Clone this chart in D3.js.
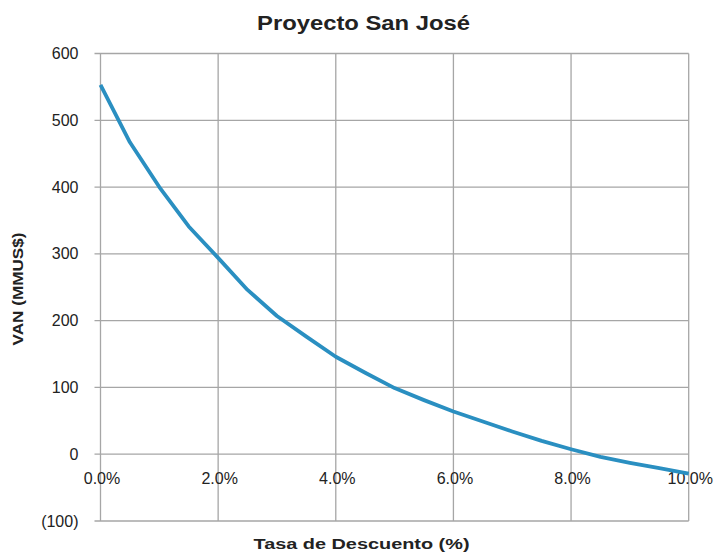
<!DOCTYPE html>
<html><head><meta charset="utf-8">
<script src="https://cdn.jsdelivr.net/npm/d3@7"></script>
<style>body{margin:0;background:#fff}svg{display:block;font-family:"Liberation Sans",Arial,sans-serif}</style>
</head><body>
<svg id="c" width="720" height="555"></svg>
<script>
const rates = [0,0.5,1,1.5,2,2.5,3,3.5,4,4.5,5,5.5,6,6.5,7,7.5,8,8.5,9,9.5,10];
const van = [553,467,400,341,294,246,207,176,146,122,99,81,64,49,34,20,7.5,-4,-13,-21,-29];
const xTicks = [0,2,4,6,8,10];
const yTicks = [-100,0,100,200,300,400,500,600];
const title = "Proyecto San José";
const xTitle = "Tasa de Descuento (%)";
const yTitle = "VAN (MMUS$)";

const L=100.5, R=688.7, T=53.5, B=521;
const svg = d3.select("#c");
const x = d3.scaleLinear().domain([0,10]).range([L,R]);
const y = d3.scaleLinear().domain([-100,600]).range([B,T]);
const grid="#a6a6a6";

svg.append("g").selectAll("line").data(yTicks).join("line")
  .attr("x1",L-6).attr("x2",R).attr("y1",d=>y(d)).attr("y2",d=>y(d))
  .attr("stroke",grid).attr("stroke-width",1.3);
svg.append("g").selectAll("line").data(xTicks).join("line")
  .attr("x1",d=>x(d)).attr("x2",d=>x(d)).attr("y1",T).attr("y2",B)
  .attr("stroke",grid).attr("stroke-width",1.3);

svg.append("g").selectAll("text").data(yTicks).join("text")
  .attr("x",78.5).attr("y",d=>y(d)).attr("dy","0.35em")
  .attr("text-anchor","end").attr("font-size",16).attr("fill","#222")
  .text(d=>d<0?`(${Math.abs(d)})`:d);
svg.append("g").selectAll("text").data(xTicks).join("text")
  .attr("x",d=>x(d)+1.5).attr("y",y(0)+30)
  .attr("text-anchor","middle").attr("font-size",16).attr("fill","#222")
  .text(d=>d.toFixed(1)+"%");

const line = d3.line().x((d,i)=>x(rates[i])).y(d=>y(d));
svg.append("path").datum(van).attr("d",line)
  .attr("fill","none").attr("stroke","#2a8fc1").attr("stroke-width",3.8)
  .attr("stroke-linejoin","round");

svg.append("text").attr("x",363.5).attr("y",30).attr("text-anchor","middle")
  .attr("font-size",19.5).attr("font-weight","bold").attr("fill","#222")
  .attr("textLength",213).attr("lengthAdjust","spacingAndGlyphs").text(title);
svg.append("text").attr("x",361.5).attr("y",548.5).attr("text-anchor","middle")
  .attr("font-size",14.3).attr("font-weight","bold").attr("fill","#222")
  .attr("textLength",216).attr("lengthAdjust","spacingAndGlyphs").text(xTitle);
svg.append("text").attr("transform",`translate(23,289) rotate(-90)`)
  .attr("text-anchor","middle").attr("font-size",14).attr("font-weight","bold").attr("fill","#222")
  .attr("textLength",113).attr("lengthAdjust","spacingAndGlyphs").text(yTitle);
</script>
</body></html>
